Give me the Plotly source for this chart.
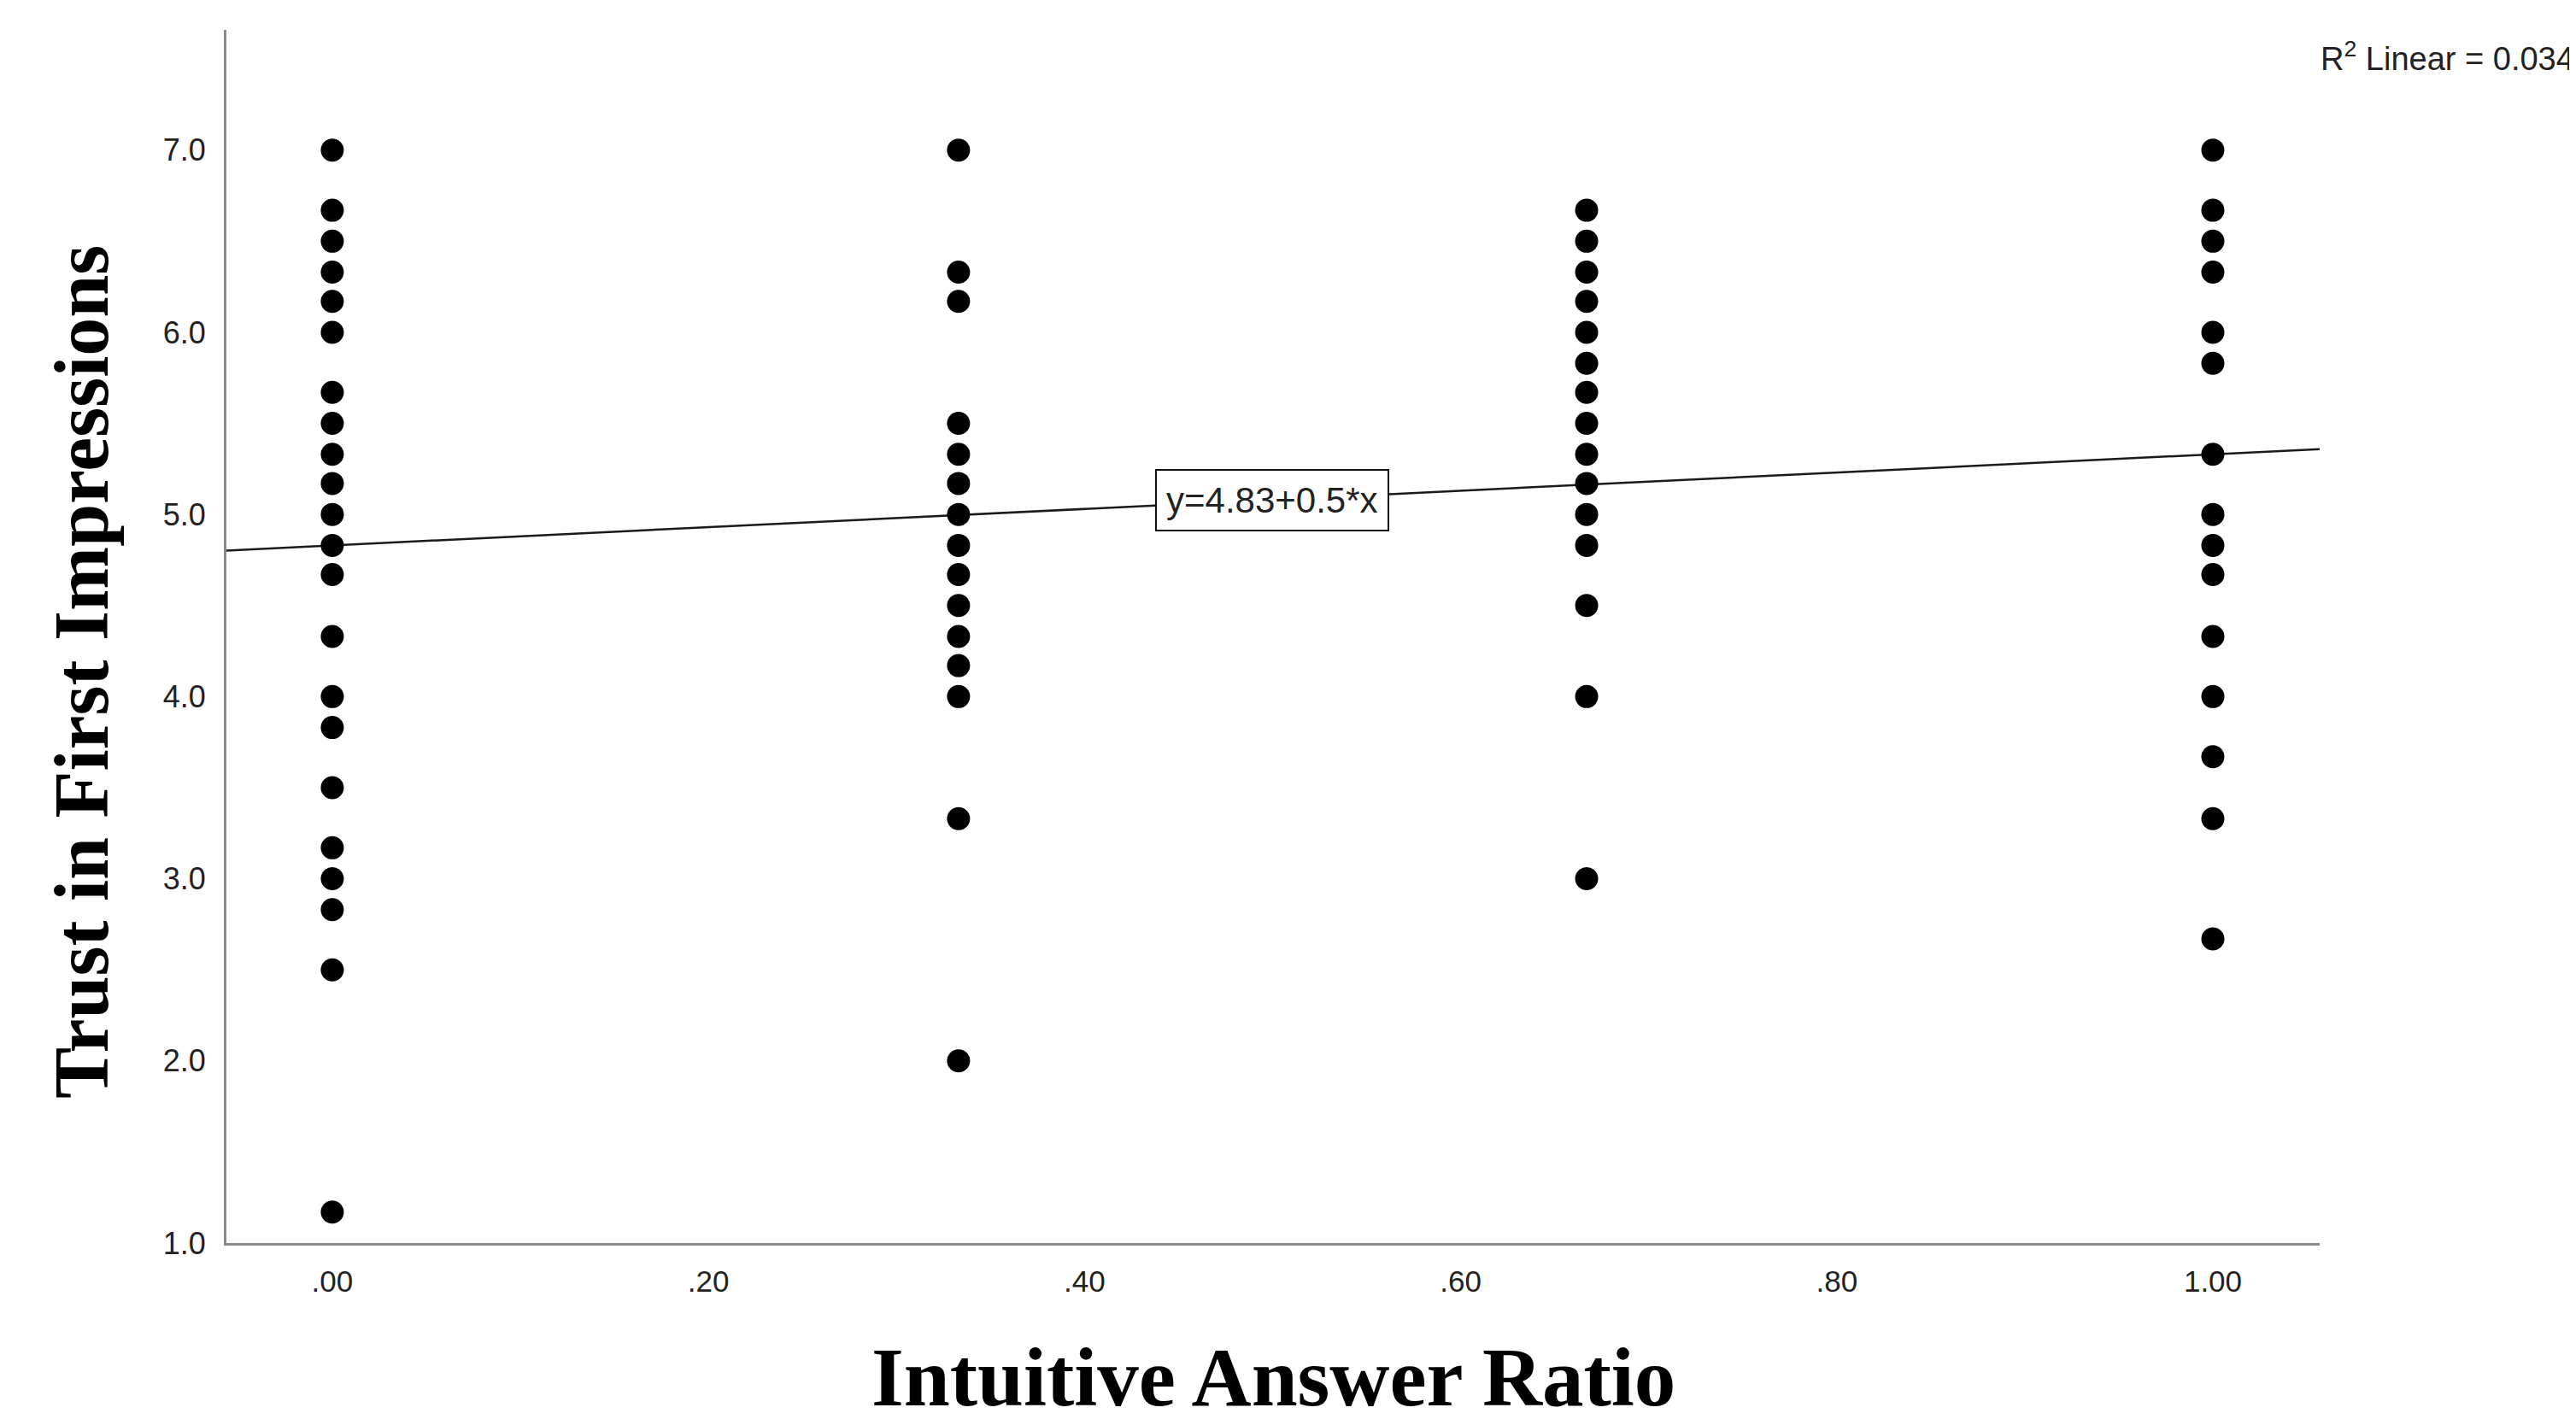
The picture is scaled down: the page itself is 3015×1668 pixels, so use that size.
import plotly.graph_objects as go

# ---- data ----
ratio_levels = [0.0, 0.333, 0.667, 1.0]
trust_at_000 = [7.0, 6.67, 6.5, 6.33, 6.17, 6.0, 5.67, 5.5, 5.33, 5.17, 5.0, 4.83, 4.67,
                4.33, 4.0, 3.83, 3.5, 3.17, 3.0, 2.83, 2.5, 1.17]
trust_at_033 = [7.0, 6.33, 6.17, 5.5, 5.33, 5.17, 5.0, 4.83, 4.67, 4.5, 4.33, 4.17, 4.0,
                3.33, 2.0]
trust_at_067 = [6.67, 6.5, 6.33, 6.17, 6.0, 5.83, 5.67, 5.5, 5.33, 5.17, 5.0, 4.83, 4.5,
                4.0, 3.0]
trust_at_100 = [7.0, 6.67, 6.5, 6.33, 6.0, 5.83, 5.33, 5.0, 4.83, 4.67, 4.33, 4.0, 3.67,
                3.33, 2.67]

fit_intercept = 4.83
fit_slope = 0.5
r2_linear = 0.034

x_tickvals = [0.0, 0.2, 0.4, 0.6, 0.8, 1.0]
x_ticktext = [".00", ".20", ".40", ".60", ".80", "1.00"]
y_tickvals = [1.0, 2.0, 3.0, 4.0, 5.0, 6.0, 7.0]

x_range = [-0.0563, 1.0568]
y_range = [1.0, 7.66]

# ---- build ----
columns = [trust_at_000, trust_at_033, trust_at_067, trust_at_100]
xs, ys = [], []
for lvl, col in zip(ratio_levels, columns):
    xs += [lvl] * len(col)
    ys += col

fig = go.Figure()

line_x = [x_range[0], x_range[1]]
line_y = [fit_intercept + fit_slope * v for v in line_x]
fig.add_trace(go.Scatter(x=line_x, y=line_y, mode="lines",
                         line=dict(color="#1a1a1a", width=2.5),
                         hoverinfo="skip", showlegend=False, cliponaxis=True))

fig.add_trace(go.Scatter(x=xs, y=ys, mode="markers",
                         marker=dict(color="black", size=27, line=dict(width=0)),
                         showlegend=False))

sans = "Liberation Sans, Arial, sans-serif"
serif = "Liberation Serif, Times New Roman, serif"

# page body adds an 8px margin; compensate so the plot area lands where the reference has it
fig.update_layout(
    width=3007, height=1660,
    margin=dict(l=257, r=300, t=27, b=213),
    plot_bgcolor="white", paper_bgcolor="white",
    font=dict(family=sans, size=36, color="#222222"),
    xaxis=dict(range=x_range, tickvals=x_tickvals, ticktext=x_ticktext,
               showgrid=False, zeroline=False, showline=True,
               linecolor="#8a8a8a", linewidth=3, ticks="",
               ticklabelstandoff=12,
               tickfont=dict(family=sans, size=35, color="#222222")),
    yaxis=dict(range=y_range, tickvals=y_tickvals, tickformat=".1f",
               showgrid=False, zeroline=False, showline=True,
               linecolor="#8a8a8a", linewidth=3, ticks="",
               ticklabelstandoff=14,
               tickfont=dict(family=sans, size=36, color="#222222")),
)

# equation label on the fit line
mid_x = 0.5
fig.add_annotation(x=mid_x, y=fit_intercept + fit_slope * mid_x, xref="x", yref="y",
                   text=f"y={fit_intercept:.2f}+{fit_slope:g}*x", showarrow=False,
                   font=dict(family=sans, size=42, color="#222222"),
                   bgcolor="white", bordercolor="#111111", borderwidth=2, borderpad=11,
                   xanchor="center", yanchor="middle")

# R^2 label
fig.add_annotation(x=0.9996, y=0.978, xref="paper", yref="paper",
                   text=f"R<sup>2</sup> Linear = {r2_linear}", showarrow=False,
                   font=dict(family=sans, size=38, color="#222222"),
                   xanchor="left", yanchor="middle")

# axis titles
fig.add_annotation(x=0.5, y=-0.111, xref="paper", yref="paper",
                   text="<b>Intuitive Answer Ratio</b>", showarrow=False,
                   font=dict(family=serif, size=97, color="black"),
                   xanchor="center", yanchor="middle")
fig.add_annotation(x=-0.0695, y=0.471, xref="paper", yref="paper",
                   text="<b>Trust in First Impressions</b>", showarrow=False,
                   textangle=-90,
                   font=dict(family=serif, size=90, color="black"),
                   xanchor="center", yanchor="middle")

fig.write_html("out.html")
